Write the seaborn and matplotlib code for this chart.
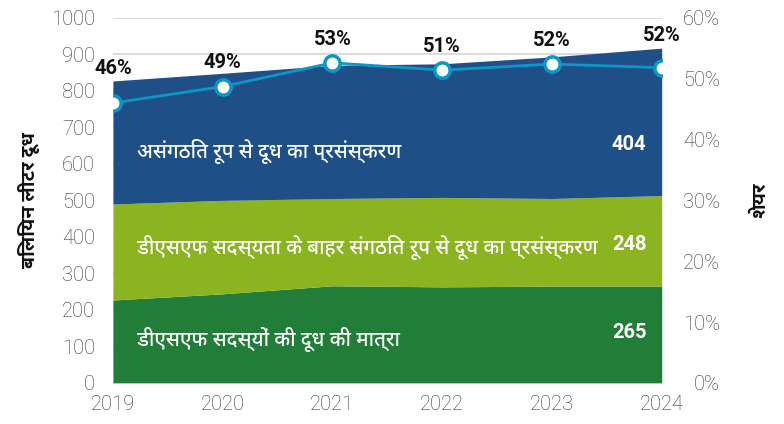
import matplotlib
matplotlib.use("Agg")
import matplotlib.pyplot as plt
import seaborn as sns
import pandas as pd
from matplotlib.ticker import FuncFormatter

# values (billion litres of milk, share in %)
years       = [2019, 2020, 2021, 2022, 2023, 2024]
dsf_members = [227, 244, 266, 263, 265, 265]
organised   = [263, 256, 239, 245, 240, 248]
unorganised = [337, 348, 365, 366, 388, 404]
share       = [46.0, 48.7, 52.6, 51.4, 52.4, 51.8]

layer_names = [
    "डीएसएफ सदस्यों की दूध की मात्रा",
    "डीएसएफ सदस्यता के बाहर संगठित रूप से दूध का प्रसंस्करण",
    "असंगठित रूप से दूध का प्रसंस्करण",
]
left_title  = "बिलियन लीटर दूध"
right_title = "शेयर"

COLORS     = ["#227d39", "#8cb320", "#1e4f86"]
LINE_COLOR = "#0b97c8"
TICK_COLOR = "#333333"

sns.set_theme(style="white")
plt.rcParams["font.family"] = ["Roboto", "DejaVu Sans"]
DEVA = ["Noto Sans Devanagari UI", "Roboto", "DejaVu Sans"]

df = pd.DataFrame({"year": years, "share": share})

fig, ax = plt.subplots(figsize=(7.84, 4.24), dpi=100)
fig.subplots_adjust(left=0.144, right=0.844, bottom=0.097, top=0.958)

ax.stackplot(years, dsf_members, organised, unorganised,
             colors=COLORS, linewidth=0, zorder=2)
ax.set_xlim(years[0], years[-1])
ax.set_ylim(0, 1000)
ax.set_yticks(range(0, 1001, 100))
ax.set_xticks(years)
ax.yaxis.grid(True, color="#d4d4d4", linewidth=1.2, zorder=0)
ax.set_axisbelow(True)
for s in ax.spines.values():
    s.set_visible(False)
ax.tick_params(axis="y", length=0, pad=13, labelsize=14.5, labelcolor=TICK_COLOR)
ax.tick_params(axis="x", length=0, pad=9, labelsize=14.5, labelcolor=TICK_COLOR)
for lab in ax.get_xticklabels() + ax.get_yticklabels():
    lab.set_fontweight("light")
ax.set_ylabel(left_title, family=DEVA, fontsize=14, fontweight="bold",
              color="#111111", labelpad=8)
ax.set_xlabel("")

# area labels
label_y = [118, 370, 633]
for name, y in zip(layer_names, label_y):
    ax.text(2019.22, y, name, family=DEVA, fontsize=14.5, fontweight="medium",
            color="white", va="center", ha="left", zorder=5)
last_vals = [dsf_members[-1], organised[-1], unorganised[-1]]
num_y = [137, 378, 652]
for v, y in zip(last_vals, num_y):
    ax.text(2023.86, y, f"{v}", fontsize=14.5, fontweight="bold",
            color="white", va="center", ha="right", zorder=5)

# share on the right axis
ax2 = ax.twinx()
sns.lineplot(data=df, x="year", y="share", ax=ax2, color=LINE_COLOR,
             linewidth=2, marker="o", markersize=11, markerfacecolor="white",
             markeredgecolor=LINE_COLOR, markeredgewidth=2.5, zorder=6)
ax2.set_ylim(0, 60)
ax2.set_yticks(range(0, 61, 10))
ax2.yaxis.set_major_formatter(FuncFormatter(lambda v, p: f"{v:.0f}%"))
for s in ax2.spines.values():
    s.set_visible(False)
ax2.tick_params(axis="y", length=0, pad=42, labelsize=14.5, labelcolor=TICK_COLOR)
for lab in ax2.get_yticklabels():
    lab.set_horizontalalignment("right")
    lab.set_fontweight("light")
ax2.set_ylabel(right_title, family=DEVA, fontsize=14, fontweight="bold",
               color="#111111", rotation=90, labelpad=22)
ax2.set_xlabel("")

offsets = [25, 17, 17, 17, 17, 23]
for x, v, off in zip(years, share, offsets):
    ax2.annotate(f"{v:.0f}%", (x, v), xytext=(0, off), textcoords="offset points",
                 ha="center", va="center", fontsize=14.5, fontweight="bold",
                 color="#111111", zorder=7)

fig.savefig("out.png", dpi=100)
